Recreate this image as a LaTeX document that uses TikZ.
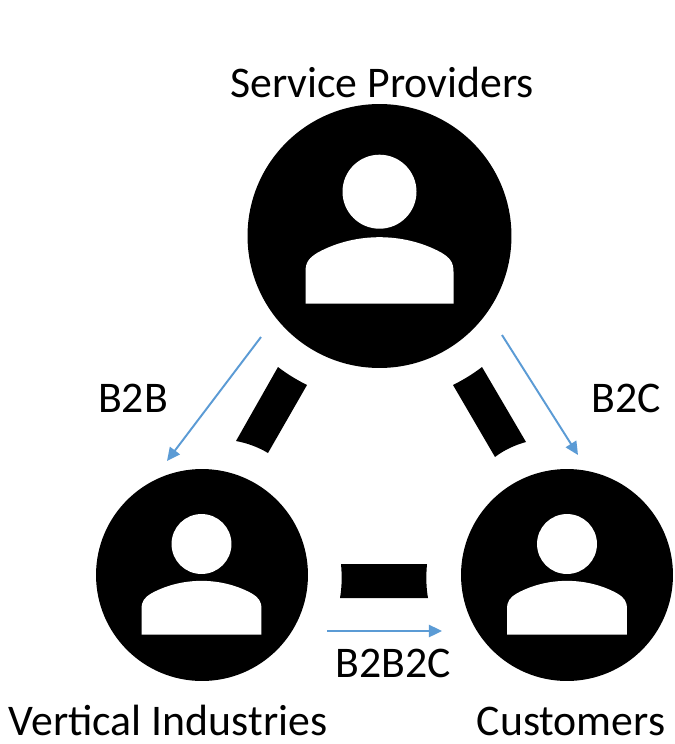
\documentclass[tikz,border=0pt]{standalone}
\usepackage{fontspec}
\setmainfont{Carlito}
\usetikzlibrary{arrows.meta}
\definecolor{flowblue}{HTML}{5B9BD5}
\newcommand{\personicon}[3]{% head x, head y, scale
  \begin{scope}[shift={(#1,#2)},x=#3*0.02cm,y=-#3*0.02cm]
    \fill[white] (0,0) circle[x radius=37,y radius=37];
    \fill[white] (-74,111.8) -- (-74,80) .. controls (-74,70) and (-70,66) .. (-62,61)
      .. controls (-42,50) and (-20,45.5) .. (0,45.5)
      .. controls (20,45.5) and (42,50) .. (62,61)
      .. controls (70,66) and (74,70) .. (74,80) -- (74,111.8) -- cycle;
  \end{scope}}
\tikzset{
  actor/.style={circle,fill=black,inner sep=0pt,outer sep=0pt},
  lbl/.style={inner sep=0pt,anchor=base,font=\fontsize{24.9pt}{28pt}\selectfont,text=black},
  flow/.style={draw=flowblue,line width=1.1pt,-{Triangle[length=7.5pt,width=7pt]}},
  bar/.style={fill=black}
}
\begin{document}
\begin{tikzpicture}[x=0.02cm,y=-0.02cm]
  \useasboundingbox (0,0) rectangle (674,744);
  \fill[white] (0,0) rectangle (674,744);
  \node[actor,minimum size=5.28cm] (sp) at (379.5,236) {};
  \node[actor,minimum size=4.24cm] (vi) at (202,575) {};
  \node[actor,minimum size=4.24cm] (cu) at (567,575) {};
  \personicon{379.5}{191.7}{1}
  \personicon{201.5}{544}{0.81}
  \personicon{567}{544}{0.81}
  % link bars
  \fill[bar] (278,367) .. controls (287,374) and (297,380) .. (307,385)
    -- (268,453) .. controls (258,447) and (247,443) .. (236,441) -- cycle;
  \fill[bar] (482,367) .. controls (473,374) and (463,380) .. (453,385)
    -- (495,457) .. controls (504,450) and (515,445) .. (526,442) -- cycle;
  \fill[bar] (341,564) -- (427,564) .. controls (426,575) and (426,587) .. (428,598)
    -- (340,598) .. controls (342,587) and (342,575) .. (341,564) -- cycle;
  % flows
  \coordinate (a1) at (261,337); \coordinate (a2) at (167,461);
  \coordinate (b1) at (502,335); \coordinate (b2) at (578,455);
  \coordinate (c1) at (327,631); \coordinate (c2) at (442,631);
  \draw[flow] (a1) -- (a2);
  \draw[flow] (b1) -- (b2);
  \draw[flow] (c1) -- (c2);
  % labels
  \node[lbl] (t1) at (382,97) {Service Providers};
  \node[lbl] (t2) at (168,735) {Vertical Industries};
  \node[lbl] (t3) at (571,735) {Customers};
  \node[lbl] (t4) at (133,412) {B2B};
  \node[lbl] (t5) at (626,412) {B2C};
  \node[lbl] (t6) at (393,677) {B2B2C};
\end{tikzpicture}
\end{document}
